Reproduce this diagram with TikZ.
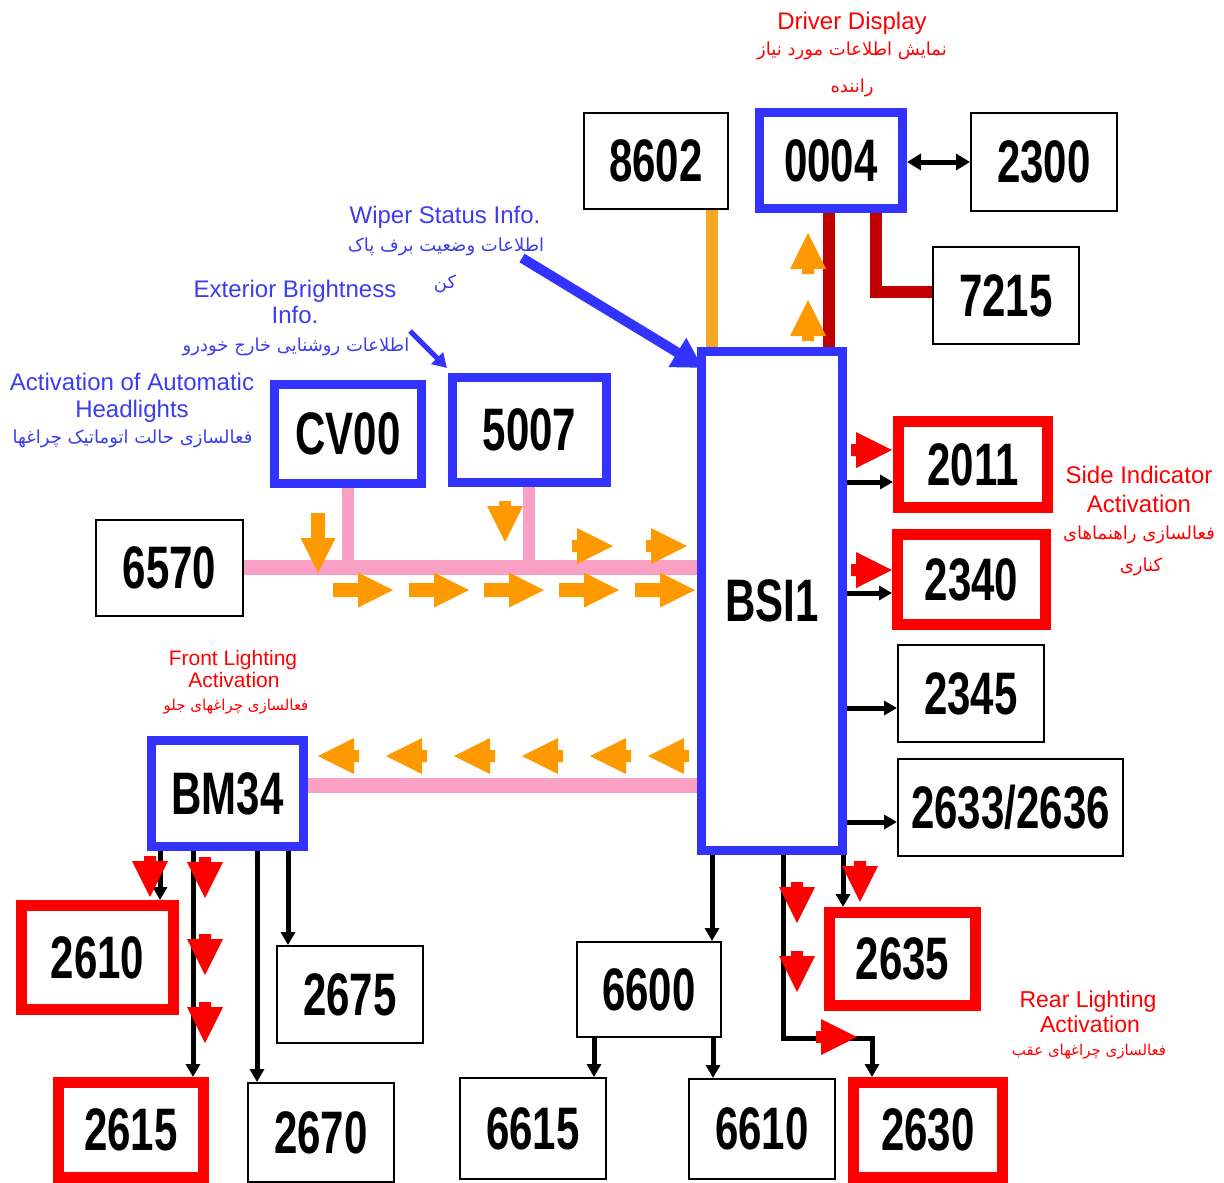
\documentclass[tikz,border=0pt]{standalone}
\usepackage{fontspec}
\setmainfont{Liberation Sans}
\newfontfamily\numfont[FakeStretch=0.7]{Liberation Sans}
\newfontfamily\fafont[Script=Arabic]{DejaVu Sans}
\TeXXeTstate=1
\usetikzlibrary{arrows.meta}
\definecolor{boxblue}{HTML}{3333FF}
\definecolor{txtblue}{HTML}{3C3CF0}
\definecolor{boxred}{HTML}{FF0000}
\definecolor{arrorange}{HTML}{FF9900}
\definecolor{lineorange}{HTML}{F5A623}
\definecolor{buspink}{HTML}{F9A0C4}
\definecolor{darkred}{HTML}{C00000}
\begin{document}
\begin{tikzpicture}[x=1pt,y=-1pt,
  numtext/.style={font=\numfont\bfseries\fontsize{60}{60}\selectfont, inner sep=0pt},
  thinbox/.style={draw=black, line width=2pt, fill=white, numtext},
  bluebox/.style={draw=boxblue, line width=9pt, fill=white, numtext},
  redbox/.style={draw=boxred, line width=11pt, fill=white, numtext},
  entxt/.style={font=\fontsize{24}{27}\selectfont, anchor=base, inner sep=0pt},
  fatxt/.style={font=\fafont\fontsize{18}{22}\selectfont, inner sep=0pt},
  fasmall/.style={font=\fafont\fontsize{15}{18}\selectfont, inner sep=0pt},
  pinkline/.style={draw=buspink, line width=15pt},
  pinkbranch/.style={draw=buspink, line width=12pt},
  conn/.style={draw=black, line width=5pt, -{Triangle[length=13pt,width=14pt]}},
  blockarr/.pic={\fill[pic actions] (0,0) -- (-35,-17.5) -- (-35,-7) -- (-60,-7) -- (-60,7) -- (-35,7) -- (-35,17.5) -- cycle;},
  headarr/.pic={\fill[pic actions] (0,0) -- (-36,-18) -- (-36,-6) -- (-41,-6) -- (-41,6) -- (-36,6) -- (-36,18) -- cycle;}
]
\useasboundingbox (0,0) rectangle (1224,1183);
\fill[white] (0,0) rectangle (1224,1183);

% ---------- boxes ----------
\node[thinbox, minimum width=144pt, minimum height=96pt] (n8602) at (656,161) {8602};
\node[bluebox, minimum width=143pt, minimum height=96pt] (n0004) at (831,160.5) {0004};
\node[thinbox, minimum width=146pt, minimum height=98pt] (n2300) at (1044,162) {2300};
\node[thinbox, minimum width=146pt, minimum height=97pt] (n7215) at (1006,295.5) {7215};
\node[bluebox, minimum width=141pt, minimum height=499pt] (bsi) at (772,601) {\raisebox{-7pt}{BSI1}};
\node[bluebox, minimum width=147pt, minimum height=99pt] (cv00) at (348,434) {CV00};
\node[bluebox, minimum width=154pt, minimum height=105pt] (n5007) at (529.5,430) {5007};
\node[thinbox, minimum width=147pt, minimum height=96pt] (n6570) at (169.5,568) {6570};
\node[redbox, minimum width=149pt, minimum height=86pt] (n2011) at (973,464.5) {2011};
\node[redbox, minimum width=148pt, minimum height=90pt] (n2340) at (971.5,579.5) {2340};
\node[thinbox, minimum width=146pt, minimum height=97pt] (n2345) at (971,693.5) {2345};
\node[thinbox, minimum width=225pt, minimum height=97pt] (n2633) at (1010.5,807.5) {2633/2636};
\node[bluebox, minimum width=152pt, minimum height=106pt] (bm) at (227.5,793.5) {BM34};
\node[redbox, minimum width=152pt, minimum height=104pt] (n2610) at (97.5,957.5) {2610};
\node[thinbox, minimum width=146pt, minimum height=97pt] (n2675) at (350,994.5) {2675};
\node[redbox, minimum width=145pt, minimum height=95pt] (n2615) at (131,1130) {2615};
\node[thinbox, minimum width=146pt, minimum height=99pt] (n2670) at (321,1132.5) {2670};
\node[thinbox, minimum width=144pt, minimum height=95pt] (n6600) at (649,989.5) {6600};
\node[thinbox, minimum width=146pt, minimum height=101pt] (n6615) at (533,1128.5) {6615};
\node[thinbox, minimum width=146pt, minimum height=100pt] (n6610) at (762,1129) {6610};
\node[redbox, minimum width=146pt, minimum height=93pt] (n2635) at (902.5,959) {2635};
\node[redbox, minimum width=149pt, minimum height=95pt] (n2630) at (928,1130) {2630};

% ---------- buses and coloured links ----------
\draw[pinkline] (n6570.east |- 0,567) -- (bsi.west |- 0,567);
\draw[pinkbranch] (348,0 |- cv00.south) -- (348,0 |- n6570.east);
\draw[pinkbranch] (529,0 |- n5007.south) -- (529,0 |- n6570.east);
\draw[pinkline] (bm.east |- 0,785) -- (bsi.west |- 0,785);
\draw[lineorange, line width=12pt] (712,0 |- n8602.south) -- (712,0 |- bsi.north);
\draw[darkred, line width=12pt] (829,0 |- n0004.south) -- (829,0 |- bsi.north);
\draw[darkred, line width=12pt] (875.5,0 |- n0004.south) |- (n7215.west |- 0,292);

% ---------- black connectors ----------
\draw[black, line width=5pt, {Triangle[length=14pt,width=16pt]}-{Triangle[length=14pt,width=16pt]}] (n0004.east |- 0,162) -- (n2300.west |- 0,162);
\draw[conn] (bsi.east |- 0,482) -- (n2011.west |- 0,482);
\draw[conn] (bsi.east |- 0,593) -- (n2340.west |- 0,593);
\draw[conn] (bsi.east |- 0,708) -- (n2345.west |- 0,708);
\draw[conn] (bsi.east |- 0,822) -- (n2633.west |- 0,822);
\draw[conn] (712,0 |- bsi.south) -- (712,0 |- n6600.north);
\draw[conn] (594,0 |- n6600.south) -- (594,0 |- n6615.north);
\draw[conn] (713,0 |- n6600.south) -- (713,0 |- n6610.north);
\draw[conn] (843,0 |- bsi.south) -- (843,0 |- n2635.north);
\coordinate (c1) at (783,1038);
\coordinate (c2) at (872,1038);
\draw[conn] (783,0 |- bsi.south) -- (c1) -- (c2) -- (872,0 |- n2630.north);
\draw[conn] (160,0 |- bm.south) -- (160,0 |- n2610.north);
\draw[conn] (193,0 |- bm.south) -- (193,0 |- n2615.north);
\draw[conn] (257,0 |- bm.south) -- (257,0 |- n2670.north);
\draw[conn] (288,0 |- bm.south) -- (288,0 |- n2675.north);

% ---------- blue pointer arrows ----------
\coordinate (wstart) at (522,258);
\draw[boxblue, line width=10pt, -{Triangle[length=30pt,width=32pt]}] (wstart) -- ([xshift=6pt,yshift=-21pt]bsi.north west);
\coordinate (estart) at (410,331);
\draw[boxblue, line width=5pt, -{Triangle[length=14pt,width=16pt]}] (estart) -- ([xshift=-1pt,yshift=5pt]n5007.north west);

% ---------- orange flow arrows ----------
\pic[fill=arrorange, rotate=90] at (808,233) {headarr};
\pic[fill=arrorange, rotate=90] at (808,300) {headarr};
\pic[fill=arrorange, rotate=-90] at (318,573) {blockarr};
\pic[fill=arrorange, rotate=-90] at (505,542) {headarr};
\pic[fill=arrorange] at (613,546) {headarr};
\pic[fill=arrorange] at (687,546) {headarr};
\foreach \xx in {393,469,544,619,695} \pic[fill=arrorange] at (\xx,590) {blockarr};
\foreach \xx in {318,386,454,522,590,648} \pic[fill=arrorange, rotate=180] at (\xx,756) {headarr};

% ---------- red activation arrows ----------
\pic[fill=boxred] at (892,450) {headarr};
\pic[fill=boxred] at (892,570) {headarr};
\pic[fill=boxred] at (857,1037) {headarr};
\foreach \pp in {(150,897),(205,898),(205,975),(205,1043),(797,923),(797,992),(860,902)}
  \pic[fill=boxred, rotate=-90] at \pp {headarr};

% ---------- labels ----------
\node[entxt, text=boxred] (ldd) at (852,29) {Driver Display};
\node[fatxt, text=boxred] (ldd2) at (852,51) {\beginR نمایش اطلاعات مورد نیاز\endR};
\node[fatxt, text=boxred] (ldd3) at (852,88) {\beginR راننده\endR};

\node[entxt, text=txtblue] (lw) at (445,223) {Wiper Status Info.};
\node[fatxt, text=txtblue] (lw2) at (446,247) {\beginR اطلاعات وضعیت برف پاک\endR};
\node[fatxt, text=txtblue] (lw3) at (445,284) {\beginR کن\endR};

\node[entxt, text=txtblue] (le) at (295,297) {Exterior Brightness};
\node[entxt, text=txtblue] (le2) at (295,323) {Info.};
\node[fatxt, text=txtblue] (le3) at (296,347) {\beginR اطلاعات روشنایی خارج خودرو\endR};

\node[entxt, text=txtblue] (la) at (132,390) {Activation of Automatic};
\node[entxt, text=txtblue] (la2) at (132,417) {Headlights};
\node[fatxt, text=txtblue] (la3) at (132.5,439) {\beginR فعالسازی حالت اتوماتیک چراغها\endR};

\node[entxt, text=boxred] (ls) at (1139,483) {Side Indicator};
\node[entxt, text=boxred] (ls2) at (1139,512) {Activation};
\node[fatxt, text=boxred] (ls3) at (1139,535) {\beginR فعالسازی راهنماهای\endR};
\node[fatxt, text=boxred] (ls4) at (1141,567) {\beginR کناری\endR};

\node[entxt, text=boxred, font=\fontsize{21}{24}\selectfont] (lf) at (233,665) {Front Lighting};
\node[entxt, text=boxred, font=\fontsize{21}{24}\selectfont] (lf2) at (234,687) {Activation};
\node[fasmall, text=boxred] (lf3) at (236,707) {\beginR فعالسازی چراغهای جلو\endR};

\node[entxt, text=boxred, font=\fontsize{23}{26}\selectfont] (lr) at (1088,1007) {Rear Lighting};
\node[entxt, text=boxred, font=\fontsize{23}{26}\selectfont] (lr2) at (1090,1032) {Activation};
\node[fasmall, text=boxred] (lr3) at (1089,1052) {\beginR فعالسازی چراغهای عقب\endR};
\end{tikzpicture}
\end{document}
